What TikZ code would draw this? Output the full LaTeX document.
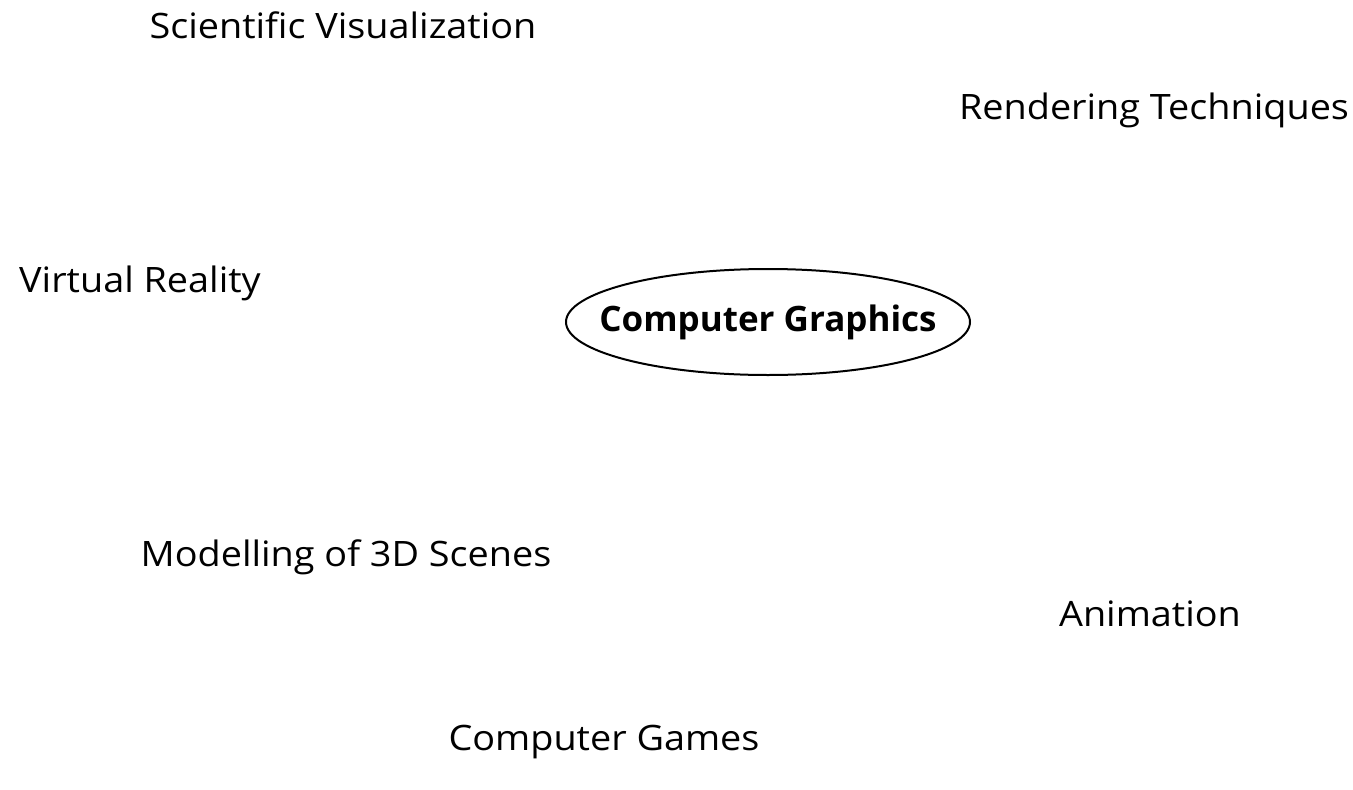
\documentclass[tikz,border=0pt]{standalone}
\usepackage{fontspec}
\setmainfont{Open Sans}
\newfontfamily\topicfont[FakeStretch=1.08]{Open Sans}
\begin{document}
\begin{tikzpicture}[x=1pt,y=-1pt,
  topic/.style={font=\topicfont\fontsize{35}{42}\selectfont, inner sep=0pt},
  hub/.style={font=\fontsize{35}{42}\selectfont\bfseries, inner sep=0pt},
  hubring/.style={draw, line width=2pt}]
\useasboundingbox (0,0) rectangle (1353,790);
\node[hub] (cg) at (768,322) {Computer Graphics};
\draw[hubring] (cg.center) ellipse [x radius=202, y radius=53];
\node[topic] (sv) at (343,25) {Scientific Visualization};
\node[topic] (rt) at (1154,110) {Rendering Techniques};
\node[topic] (vr) at (140,283) {Virtual Reality};
\node[topic] (m3d) at (346,557) {Modelling of 3D Scenes};
\node[topic] (an) at (1150,614) {Animation};
\node[topic] (gm) at (604,742) {Computer Games};
\end{tikzpicture}
\end{document}
